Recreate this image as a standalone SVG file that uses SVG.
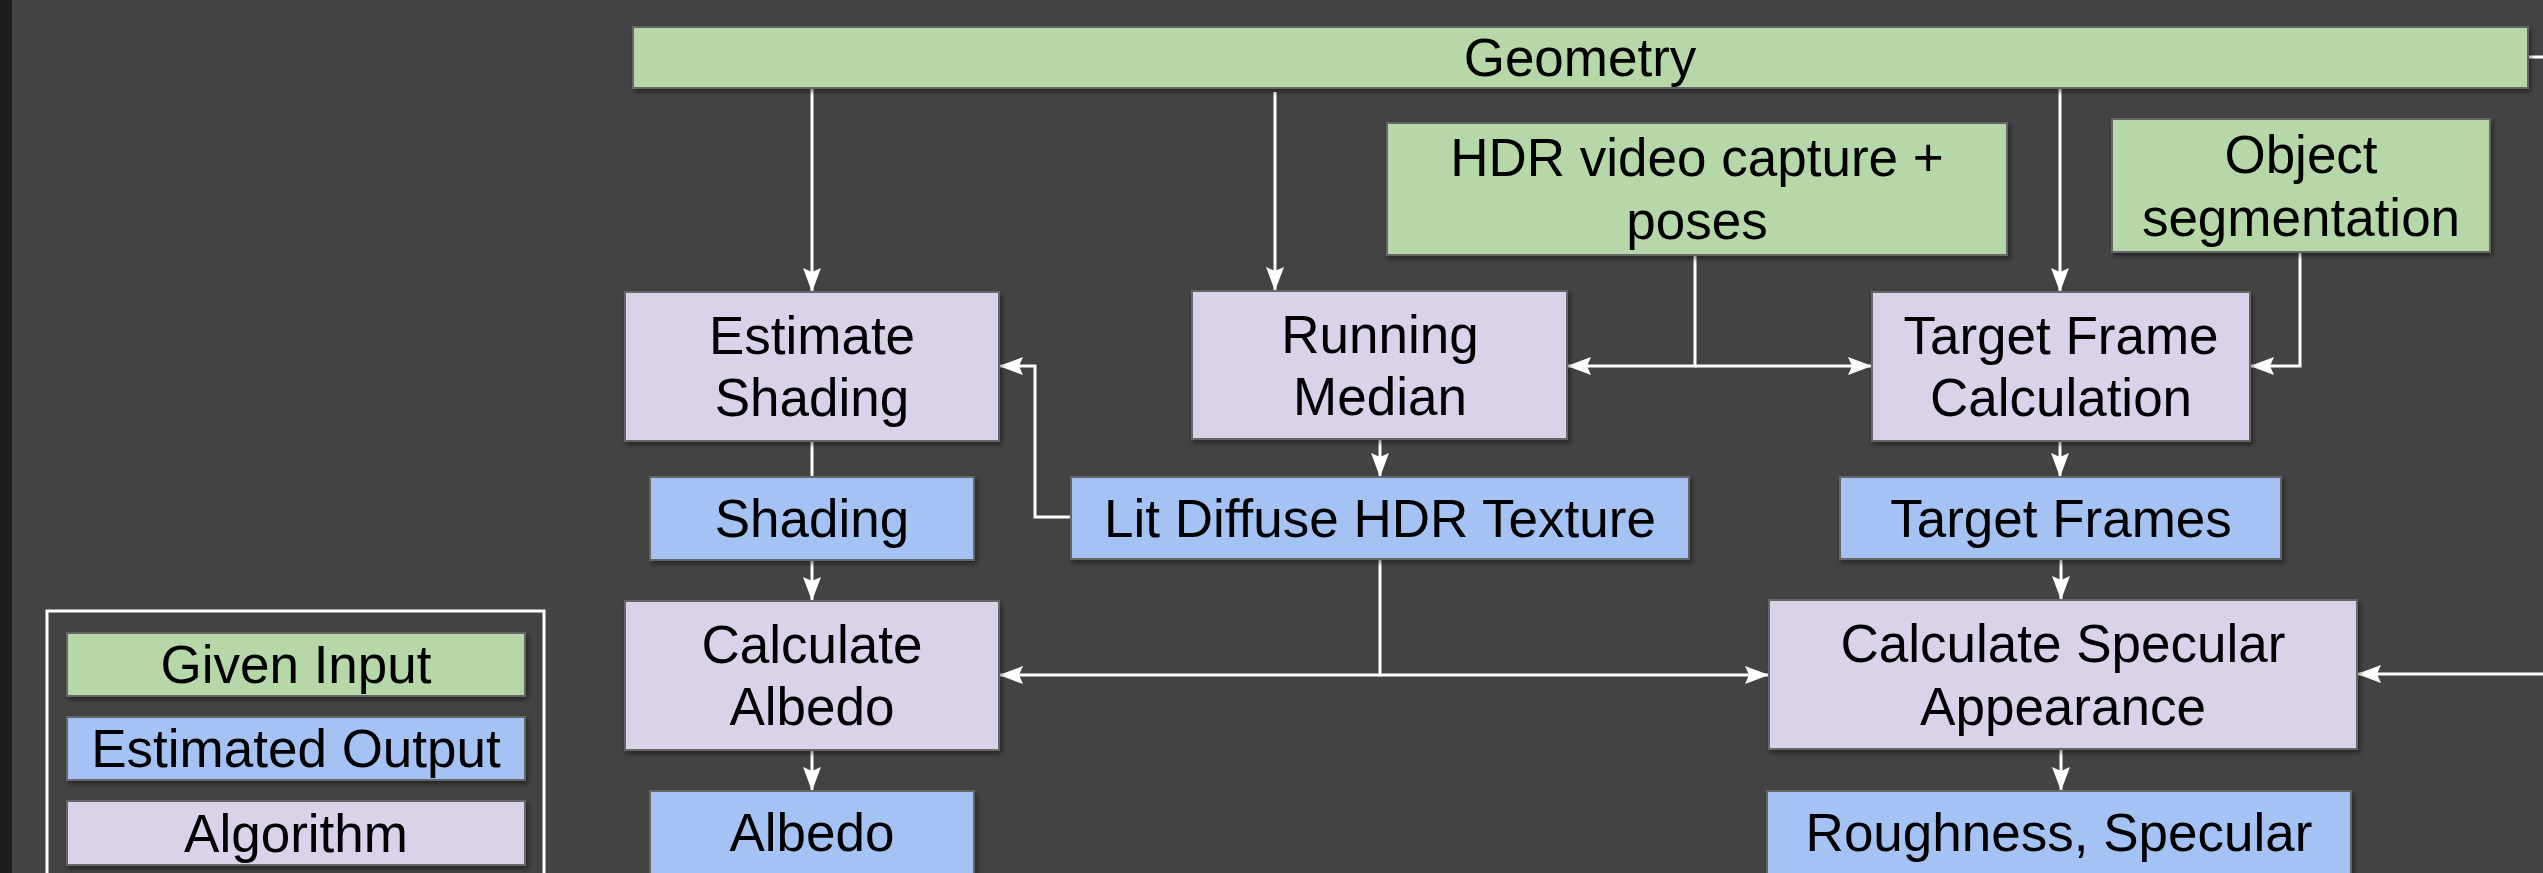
<svg xmlns="http://www.w3.org/2000/svg" width="2543" height="873" viewBox="0 0 2543 873">
<style>
.box{stroke:#666666;stroke-width:2;filter:url(#sh)}
.in{fill:#b6d7a8}
.out{fill:#a4c2f4}
.alg{fill:#d9d2e9}
text{font-family:"Liberation Sans",Arial,sans-serif;font-size:53px;fill:#000;text-anchor:middle}
.c{fill:none;stroke:#ffffff;stroke-width:3}
.a{marker-end:url(#ah)}
</style>
<defs>
<filter id="sh" x="-10%" y="-20%" width="120%" height="150%">
<feDropShadow dx="2" dy="3" stdDeviation="2.5" flood-color="#000" flood-opacity="0.45"/>
</filter>
<marker id="ah" markerUnits="userSpaceOnUse" markerWidth="26" markerHeight="20" refX="24" refY="9" orient="auto">
<path d="M0,0 L24,9 L0,18 L4,9 Z" fill="#ffffff"/>
</marker>
</defs>
<rect x="0" y="0" width="2543" height="873" fill="#434343"/>
<rect x="0" y="0" width="12" height="873" fill="#1e1e1e"/>

<g id="connectors">
<path class="c a" d="M812,88 V292"/>
<path class="c a" d="M1275,92 V291"/>
<path class="c a" d="M2060,88 V292"/>
<path class="c a" d="M2528,57 H2560 V674 H2357"/>
<path class="c a" d="M1695,255 V366 H1567"/>
<path class="c a" d="M1695,366 H1872"/>
<path class="c a" d="M2300,252 V366 H2250"/>
<path class="c" d="M812,441 V477"/>
<path class="c a" d="M812,560 V601"/>
<path class="c a" d="M1380,439 V477"/>
<path class="c a" d="M1071,517 H1035 V366 H999"/>
<path class="c a" d="M1380,559 V675 H999"/>
<path class="c a" d="M1380,675 H1769"/>
<path class="c a" d="M2060,441 V477"/>
<path class="c a" d="M2061,559 V600"/>
<path class="c a" d="M812,750 V791"/>
<path class="c a" d="M2061,749 V791"/>
</g>

<g id="geometry"><rect class="box in" x="633" y="27" width="1895" height="61"/><text x="1580" y="76">Geometry</text></g>
<g id="hdr"><rect class="box in" x="1387" y="123" width="620" height="132"/><text x="1697" y="176">HDR video capture +</text><text x="1697" y="239">poses</text></g>
<g id="segmentation"><rect class="box in" x="2112" y="119" width="378" height="133"/><text x="2301" y="173">Object</text><text x="2301" y="236">segmentation</text></g>
<g id="estimate-shading"><rect class="box alg" x="625" y="292" width="374" height="149"/><text x="812" y="354">Estimate</text><text x="812" y="416">Shading</text></g>
<g id="running-median"><rect class="box alg" x="1192" y="291" width="375" height="148"/><text x="1380" y="353">Running</text><text x="1380" y="415">Median</text></g>
<g id="target-frame-calc"><rect class="box alg" x="1872" y="292" width="378" height="149"/><text x="2061" y="354">Target Frame</text><text x="2061" y="416">Calculation</text></g>
<g id="shading"><rect class="box out" x="650" y="477" width="324" height="83"/><text x="812" y="537">Shading</text></g>
<g id="lit-diffuse"><rect class="box out" x="1071" y="477" width="618" height="82"/><text x="1380" y="537">Lit Diffuse HDR Texture</text></g>
<g id="target-frames"><rect class="box out" x="1840" y="477" width="441" height="82"/><text x="2061" y="537">Target Frames</text></g>
<g id="calc-albedo"><rect class="box alg" x="625" y="601" width="374" height="149"/><text x="812" y="663">Calculate</text><text x="812" y="725">Albedo</text></g>
<g id="calc-specular"><rect class="box alg" x="1769" y="600" width="588" height="149"/><text x="2063" y="662">Calculate Specular</text><text x="2063" y="725">Appearance</text></g>
<g id="albedo"><rect class="box out" x="650" y="791" width="324" height="90"/><text x="812" y="851">Albedo</text></g>
<g id="roughness"><rect class="box out" x="1767" y="791" width="584" height="90"/><text x="2059" y="851">Roughness, Specular</text></g>

<g id="legend">
<rect x="47" y="611" width="497" height="280" fill="none" stroke="#ffffff" stroke-width="3"/>
<rect class="box in" x="67" y="633" width="458" height="63"/><text x="296" y="683">Given Input</text>
<rect class="box out" x="67" y="717" width="458" height="63"/><text x="296" y="767">Estimated Output</text>
<rect class="box alg" x="67" y="801" width="458" height="64"/><text x="296" y="852">Algorithm</text>
</g>
</svg>
